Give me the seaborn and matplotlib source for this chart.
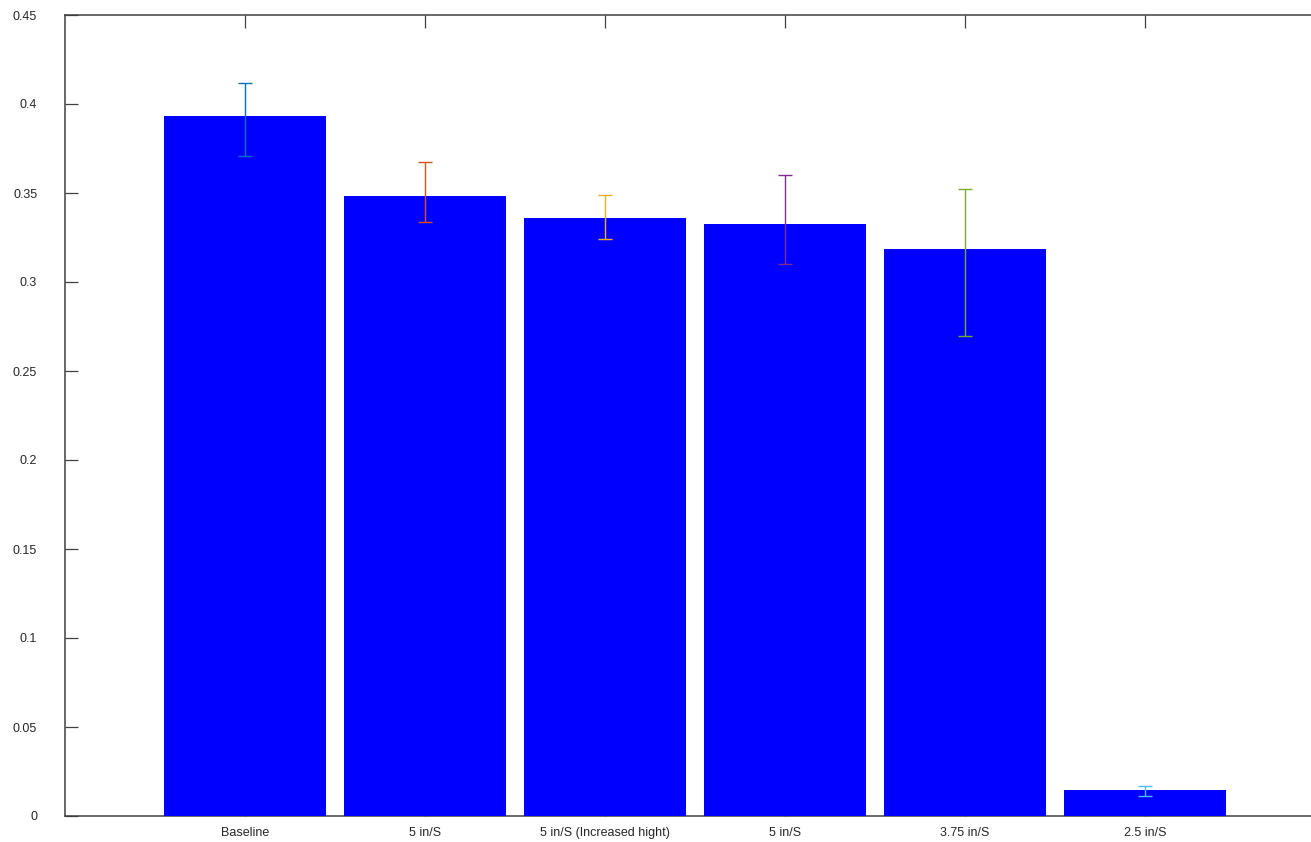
import matplotlib
matplotlib.use("Agg")
import matplotlib.pyplot as plt
import seaborn as sns
import pandas as pd

# Mean values per test condition, with upper/lower bounds of the error bars
labels = ["Baseline", "5 in/S", "5 in/S (Increased hight)", "5 in/S", "3.75 in/S", "2.5 in/S"]
means = [0.3934, 0.3483, 0.3360, 0.3326, 0.3185, 0.0146]
upper = [0.4118, 0.3675, 0.3487, 0.3599, 0.3522, 0.0169]
lower = [0.3706, 0.3335, 0.3242, 0.3099, 0.2697, 0.0112]
err_colors = ["#0072BD", "#D95319", "#EDB120", "#7E2F8E", "#77AC30", "#4DBEEE"]
yticks = [0, 0.05, 0.1, 0.15, 0.2, 0.25, 0.3, 0.35, 0.4, 0.45]
ytick_labels = ["0", "0.05", "0.1", "0.15", "0.2", "0.25", "0.3", "0.35", "0.4", "0.45"]

sns.set_theme(style="white")
plt.rcParams["font.family"] = ["Liberation Sans", "DejaVu Sans"]

df = pd.DataFrame({"pos": list(range(len(labels))), "value": means})

fig = plt.figure(figsize=(13.11, 8.42), dpi=100)
ax = fig.add_axes([65 / 1311, 26 / 842, 1260 / 1311, 801 / 842])

sns.barplot(data=df, x="pos", y="value", color="#0000FF", saturation=1,
            width=0.9, errorbar=None, ax=ax, zorder=3,
            edgecolor="none", linewidth=0)

for i, (m, hi, lo, c) in enumerate(zip(means, upper, lower, err_colors)):
    ax.errorbar(i, m, yerr=[[m - lo], [hi - m]], fmt="none", ecolor=c,
                elinewidth=1.0, capsize=5, capthick=1.0, zorder=4)

ax.set_xlim(-1, 6)
ax.set_ylim(0, 0.45)
ax.set_yticks(yticks)
ax.set_yticklabels(ytick_labels)
ax.set_xticks(range(len(labels)))
ax.set_xticklabels(labels)
ax.set_xlabel("")
ax.set_ylabel("")

for s in ax.spines.values():
    s.set_visible(True)
    s.set_color("#404040")
    s.set_linewidth(1.1)
    s.set_zorder(2)

ax.tick_params(axis="both", which="both", direction="in", length=9, width=0.9,
               color="#404040", labelsize=9, labelcolor="#262626",
               top=True, right=True, bottom=True, left=True)
ax.tick_params(axis="y", pad=20)
ax.tick_params(axis="x", pad=8)

fig.savefig("out.png", dpi=100)
